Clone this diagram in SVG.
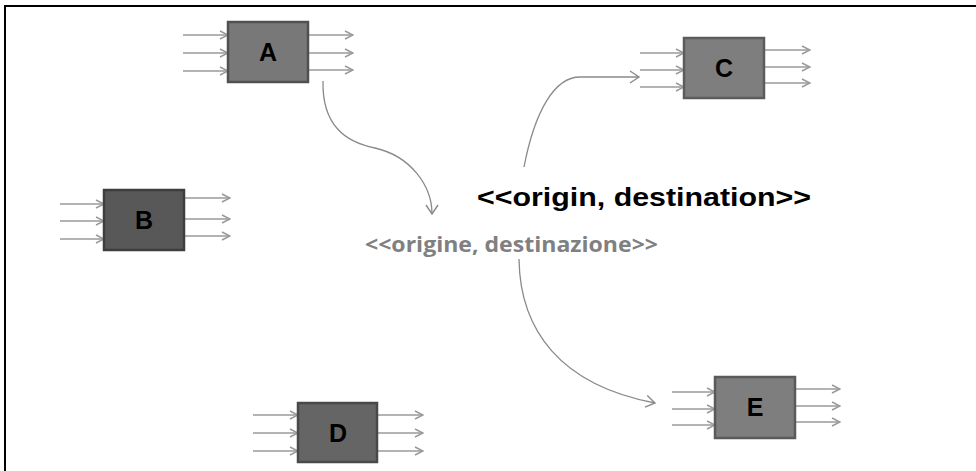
<svg xmlns="http://www.w3.org/2000/svg" width="976" height="471" viewBox="0 0 976 471">
<defs>
<marker id="ah" markerWidth="10" markerHeight="10" refX="9" refY="5" orient="auto" markerUnits="userSpaceOnUse">
<path d="M1,1 L9,5 L1,9" fill="none" stroke="#999" stroke-width="1.5"/>
</marker>
<marker id="ahc" markerWidth="14" markerHeight="14" refX="11" refY="7" orient="auto" markerUnits="userSpaceOnUse">
<path d="M2,1 L11,7 L2,13" fill="none" stroke="#8a8a8a" stroke-width="1.4"/>
</marker>
</defs>
<style>
line{stroke:#9a9a9a;stroke-width:1.6;marker-end:url(#ah)}
.box{stroke-width:2.5}
.lbl{font-family:"Liberation Sans",Arial,sans-serif;font-weight:bold;font-size:25px;fill:#000;text-anchor:middle}
.conn{fill:none;stroke:#8a8a8a;stroke-width:1.3;marker-end:url(#ahc)}
</style>
<rect width="976" height="471" fill="#fff"/>
<path d="M5,471 V6 H976" fill="none" stroke="#000" stroke-width="2"/>

<g id="A">
<line x1="183" y1="35" x2="228" y2="35"/><line x1="183" y1="53" x2="228" y2="53"/><line x1="183" y1="71" x2="228" y2="71"/>
<line x1="308" y1="35" x2="353" y2="35"/><line x1="308" y1="53" x2="353" y2="53"/><line x1="308" y1="70" x2="353" y2="70"/>
<rect class="box" x="228" y="22" width="80" height="60" fill="#787878" stroke="#505050"/>
<text class="lbl" x="268" y="61">A</text>
</g>
<g id="B">
<line x1="60" y1="204" x2="104" y2="204"/><line x1="60" y1="221" x2="104" y2="221"/><line x1="60" y1="239" x2="104" y2="239"/>
<line x1="184" y1="198" x2="230" y2="198"/><line x1="184" y1="219" x2="230" y2="219"/><line x1="184" y1="236" x2="230" y2="236"/>
<rect class="box" x="104" y="190" width="80" height="60" fill="#585858" stroke="#3e3e3e"/>
<text class="lbl" x="144" y="229">B</text>
</g>
<g id="C">
<line x1="640" y1="53" x2="684" y2="53"/><line x1="640" y1="70" x2="684" y2="70"/><line x1="640" y1="87" x2="684" y2="87"/>
<line x1="764" y1="50" x2="810" y2="50"/><line x1="764" y1="67" x2="810" y2="67"/><line x1="764" y1="83" x2="810" y2="83"/>
<rect class="box" x="684" y="38" width="80" height="60" fill="#7e7e7e" stroke="#5c5c5c"/>
<text class="lbl" x="724" y="77">C</text>
</g>
<g id="D">
<line x1="253" y1="415" x2="298" y2="415"/><line x1="253" y1="433" x2="298" y2="433"/><line x1="253" y1="451" x2="298" y2="451"/>
<line x1="377" y1="415" x2="423" y2="415"/><line x1="377" y1="433" x2="423" y2="433"/><line x1="377" y1="451" x2="423" y2="451"/>
<rect class="box" x="298" y="403" width="79" height="59" fill="#656565" stroke="#494949"/>
<text class="lbl" x="338" y="442">D</text>
</g>
<g id="E">
<line x1="672" y1="392" x2="715" y2="392"/><line x1="672" y1="409" x2="715" y2="409"/><line x1="672" y1="425" x2="715" y2="425"/>
<line x1="795" y1="389" x2="840" y2="389"/><line x1="795" y1="406" x2="840" y2="406"/><line x1="795" y1="422" x2="840" y2="422"/>
<rect class="box" x="715" y="377" width="80" height="61" fill="#7e7e7e" stroke="#5a5a5a"/>
<text class="lbl" x="755" y="416">E</text>
</g>

<g id="connectors">
<path class="conn" d="M323,81 C322,125 345,142 375,148 C410,156 432,185 432,214"/>
<path class="conn" d="M524,167 C535,110 555,77 580,77 L639,77"/>
<path class="conn" d="M519,259 C520,330 560,385 655,403"/>
</g>

<g id="labels">
<text x="365" y="252" textLength="293" lengthAdjust="spacingAndGlyphs" font-family="'Open Sans','Noto Sans',sans-serif" font-weight="bold" font-size="22" fill="#808080">&lt;&lt;origine, destinazione&gt;&gt;</text>
<text x="477" y="206" textLength="334" lengthAdjust="spacingAndGlyphs" font-family="'Liberation Sans',Arial,sans-serif" font-weight="bold" font-size="25" fill="#000">&lt;&lt;origin, destination&gt;&gt;</text>
</g>
</svg>
